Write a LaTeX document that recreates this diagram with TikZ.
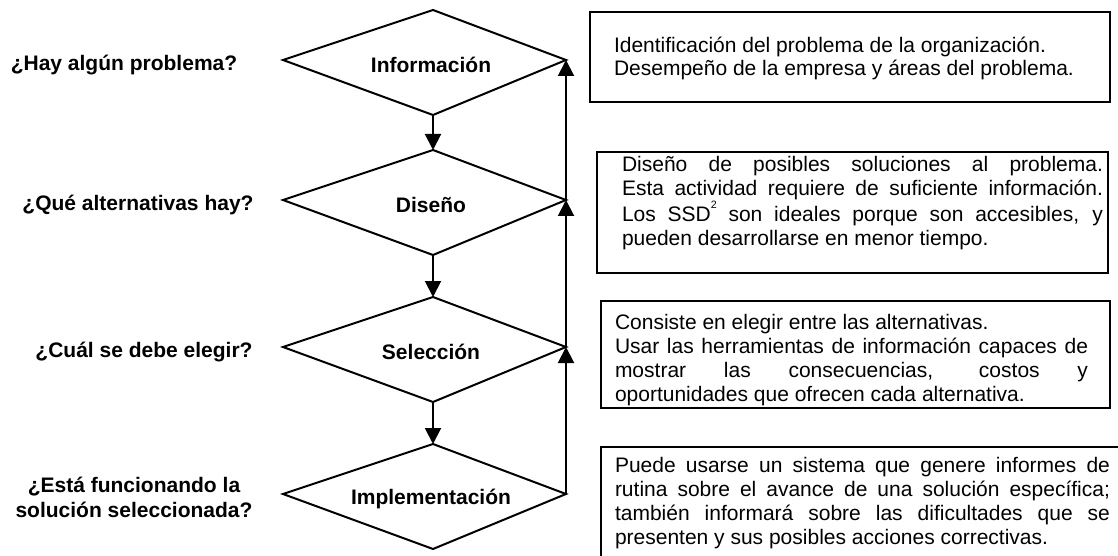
\documentclass[tikz,border=0pt]{standalone}
\usepackage{fontspec}
\setmainfont{Liberation Sans}
\usetikzlibrary{arrows.meta}

\begin{document}
\begin{tikzpicture}[x=0.75pt, y=-0.75pt, line width=1.5pt,
    arr/.style={-{Triangle[width=12pt,length=12pt]}},
    stage/.style={font=\fontsize{15.75pt}{18pt}\selectfont\bfseries},
    question/.style={font=\fontsize{15.75pt}{18.75pt}\selectfont\bfseries, align=center},
    note/.style={font=\fontsize{15.75pt}{18pt}\selectfont, anchor=north west, inner sep=0pt},
    box/.style={draw=black, inner sep=0pt}]
  \useasboundingbox (0,0) rectangle (1118,556);
  % diamonds
  \foreach \n/\y/\t in {info/60/Información, dis/200/Diseño, sel/347/Selección, impl/494/Implementación}{
    \coordinate (\n-l) at (283,\y);
    \coordinate (\n-t) at (433,\y-50);
    \coordinate (\n-r) at (566,\y);
    \coordinate (\n-b) at (433,\y+55);
    \draw (\n-l) -- (\n-t) -- (\n-r) -- (\n-b) -- cycle;
    \node[stage] (\n) at (431,\y+5) {\t};
  }
  %
  \draw[arr] (info-b) -- (dis-t);
  \draw[arr] (dis-b) -- (sel-t);
  \draw[arr] (sel-b) -- (impl-t);
  \draw[arr] (impl-r) -- (sel-r);
  \draw[arr] (sel-r) -- (dis-r);
  \draw[arr] (dis-r) -- (info-r);
  % questions
  \node[question] (q1) at (124,65) {¿Hay algún problema?};
  \node[question] (q2) at (138,205) {¿Qué alternativas hay?};
  \node[question] (q3) at (144,352) {¿Cuál se debe elegir?};
  \node[question] (q4) at (134,497) {¿Está funcionando la\\solución seleccionada?};
  % boxes
  \node[box, minimum width=390pt, minimum height=67.5pt] (b1) at (850,57) {};
  \node[box, minimum width=383.25pt, minimum height=90.75pt] (b2) at (852.5,212.5) {};
  \node[box, minimum width=381.75pt, minimum height=80.25pt] (b3) at (855.5,354.5) {};
  \node[box, minimum width=404.25pt, minimum height=99.75pt] (b4) at (870.5,513.5) {};
  %
  \node[note, align=left, font=\fontsize{15.75pt}{16.5pt}\selectfont] (t1) at (613,36)
    {\strut Identificación del problema de la organización.\\Desempeño de la empresa y áreas del problema.};
  \node[note, text width=360.75pt, align=justify] (t2) at (621,154)
    {\strut Diseño de posibles soluciones al problema.\linebreak Esta actividad requiere de suficiente información.\linebreak Los SSD\raisebox{1.1ex}{\fontsize{8pt}{8pt}\selectfont 2} son ideales porque son accesibles, y\linebreak pueden desarrollarse en menor tiempo.};
  \node[note, text width=354.75pt, align=justify] (t3) at (614,312)
    {\strut Consiste en elegir entre las alternativas.\newline Usar las herramientas de información capaces de\linebreak mostrar las consecuencias, costos y\linebreak oportunidades que ofrecen cada alternativa.};
  \node[note, text width=371.25pt, align=justify] (t4) at (614,455)
    {\strut Puede usarse un sistema que genere informes de\linebreak rutina sobre el avance de una solución específica;\linebreak también informará sobre las dificultades que se\linebreak presenten y sus posibles acciones correctivas.};
\end{tikzpicture}
\end{document}
